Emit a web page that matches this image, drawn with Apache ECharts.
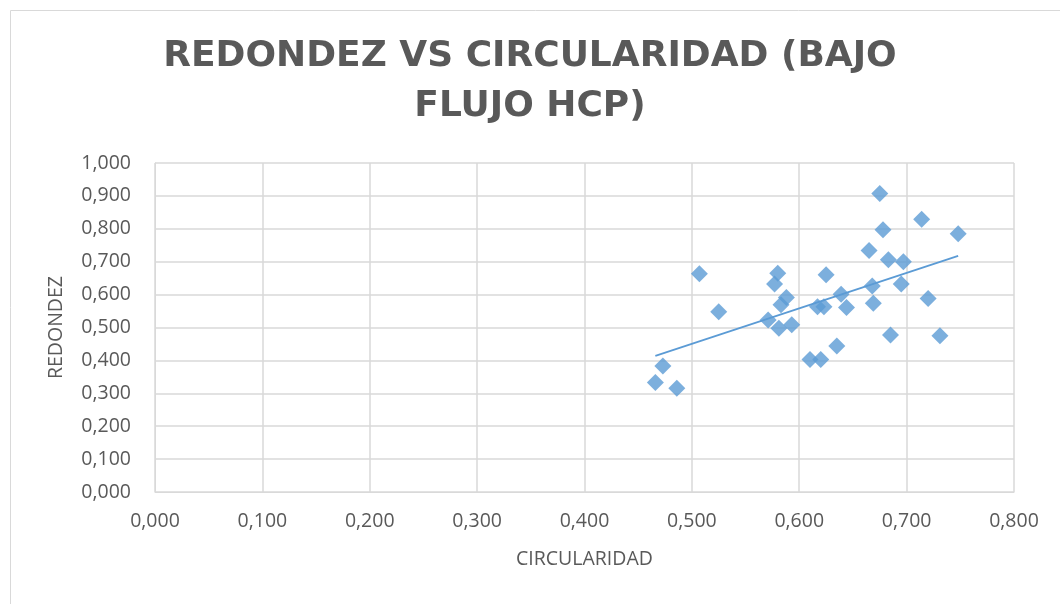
<!DOCTYPE html>
<html lang="es">
  <head>
    <meta charset="utf-8" />
    <title>Redondez vs Circularidad</title>
    <style>
      * {
        margin: 0;
        padding: 0;
      }
      #chart-container {
        position: relative;
        height: 604px;
        width: 1060px;
        overflow: hidden;
        background: #fff;
      }
    </style>
  </head>
  <body>
    <div id="chart-container"></div>
    <script src="https://cdn.jsdelivr.net/npm/echarts@6/dist/echarts.min.js"></script>
    <script>
      // valores
      var circularidad = [
        0.466, 0.473, 0.486, 0.507, 0.525, 0.580, 0.577, 0.588, 0.583, 0.571,
        0.581, 0.593, 0.617, 0.623, 0.625, 0.610, 0.620, 0.675, 0.714, 0.678,
        0.748, 0.665, 0.683, 0.697, 0.668, 0.695, 0.639, 0.644, 0.669, 0.720,
        0.685, 0.731, 0.635
      ];
      var redondez = [
        0.333, 0.383, 0.315, 0.663, 0.548, 0.665, 0.632, 0.591, 0.569, 0.523,
        0.498, 0.508, 0.563, 0.563, 0.660, 0.403, 0.403, 0.907, 0.829, 0.797,
        0.785, 0.734, 0.706, 0.700, 0.626, 0.632, 0.601, 0.561, 0.574, 0.588,
        0.477, 0.475, 0.444
      ];
      var titleLines = ["REDONDEZ VS CIRCULARIDAD (BAJO", "FLUJO HCP)"];

      var points = circularidad.map(function (x, i) {
        return [x, redondez[i]];
      });

      // linea de tendencia lineal (minimos cuadrados)
      var n = points.length, sx = 0, sy = 0, sxx = 0, sxy = 0;
      points.forEach(function (p) {
        sx += p[0]; sy += p[1]; sxx += p[0] * p[0]; sxy += p[0] * p[1];
      });
      var slope = (n * sxy - sx * sy) / (n * sxx - sx * sx);
      var icpt = (sy - slope * sx) / n;
      var xMin = Math.min.apply(null, circularidad);
      var xMax = Math.max.apply(null, circularidad);
      var trend = [
        [xMin, icpt + slope * xMin],
        [xMax, icpt + slope * xMax]
      ];

      function fmt(v) {
        return v.toFixed(3).replace(".", ",");
      }

      var gray = "#595959";
      var gridColor = "#D9D9D9";
      var blue = "#5B9BD5";

      var dom = document.getElementById("chart-container");
      var myChart = echarts.init(dom, null, { renderer: "canvas" });

      var option = {
        animation: false,
        textStyle: { fontFamily: "Open Sans" },
        title: {
          text: titleLines.join("\n"),
          left: "center",
          top: 27,
          textStyle: {
            fontFamily: "DejaVu Sans",
            fontWeight: "bold",
            fontSize: 36,
            lineHeight: 50,
            color: gray
          }
        },
        graphic: [
          {
            type: "rect",
            left: 8,
            top: 8,
            shape: { width: 1060, height: 594 },
            style: { fill: "none", stroke: gridColor, lineWidth: 1 },
            silent: true
          }
        ],
        grid: { left: 155, right: 46, top: 163, bottom: 112 },
        xAxis: {
          type: "value",
          min: 0,
          max: 0.8,
          interval: 0.1,
          name: "CIRCULARIDAD",
          nameLocation: "middle",
          nameGap: 57,
          nameTextStyle: { color: gray, fontSize: 19.5 },
          axisLine: { show: true, lineStyle: { color: gridColor } },
          axisTick: { show: false },
          axisLabel: { color: gray, fontSize: 19.5, margin: 19, formatter: fmt },
          splitLine: { show: true, lineStyle: { color: gridColor, width: 1.5 } }
        },
        yAxis: {
          type: "value",
          min: 0,
          max: 1,
          interval: 0.1,
          name: "REDONDEZ",
          nameLocation: "middle",
          nameGap: 89,
          nameTextStyle: { color: gray, fontSize: 19.5 },
          axisLine: { show: true, lineStyle: { color: gridColor } },
          axisTick: { show: false },
          axisLabel: { color: gray, fontSize: 19.5, margin: 24, formatter: fmt },
          splitLine: { show: true, lineStyle: { color: gridColor, width: 1.5 } }
        },
        series: [
          {
            name: "Redondez",
            type: "scatter",
            symbol: "diamond",
            symbolSize: [17, 17],
            itemStyle: { color: blue },
            data: points,
            z: 3
          },
          {
            name: "Tendencia",
            type: "line",
            data: trend,
            showSymbol: false,
            lineStyle: { color: blue, width: 1.75 },
            z: 2
          }
        ]
      };

      myChart.setOption(option);
      window.addEventListener("resize", myChart.resize);
    </script>
  </body>
</html>
